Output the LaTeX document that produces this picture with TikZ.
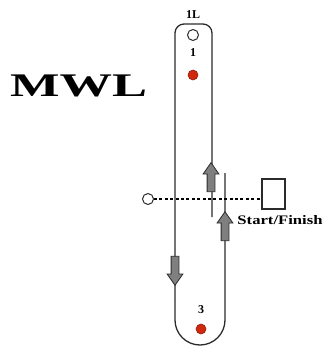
\documentclass[tikz,border=0pt]{standalone}
\usepackage{fontspec}
\setmainfont{Liberation Serif}
\usetikzlibrary{shapes.arrows}
\definecolor{ink}{HTML}{2B2B2B}
\definecolor{steel}{HTML}{7F7F7F}
\definecolor{dot}{HTML}{D1290E}
\definecolor{dotln}{HTML}{8E1C0A}
\tikzset{
  lane/.style={draw=ink,line width=1.3pt},
  flow/.style={single arrow,draw=ink,fill=steel,line width=0.8pt,minimum width=15pt,
               minimum height=29pt,single arrow head extend=4pt,
               single arrow tip angle=70,inner xsep=0pt,inner ysep=3.5pt},
  marker/.style={circle,draw=dotln,fill=dot,line width=0.6pt,minimum size=10pt,inner sep=0pt},
  hollow/.style={circle,draw=ink,fill=white,line width=1pt,minimum size=11pt,inner sep=0pt},
  gate/.style={draw=ink,line width=1.2pt,minimum width=23pt,minimum height=30pt,inner sep=0pt},
  startln/.style={draw=black,line width=1.8pt,dash pattern=on 3pt off 2.4pt},
  num/.style={font=\bfseries\fontsize{12}{12}\selectfont,inner sep=0pt},
}
\begin{document}
\begin{tikzpicture}[x=1pt,y=-1pt]
\useasboundingbox (0,0) rectangle (324,348);
% track
\draw[lane,rounded corners=9pt] (175,300) -- (175,24) -- (212,24) -- (212,217);
\draw[lane] (175,300) -- (175,320) arc[start angle=180,end angle=0,radius=25] -- (225,173);
% cones and numbers
\node[hollow] (top) at (193,35) {};
\node[num] (n1) at (193,53) {1};
\node[marker] (c1) at (193,75) {};
\node[num] (n3) at (201,310) {3};
\node[marker] (c3) at (201,329) {};
\node[num,anchor=base] (lane1) at (193,18) {1L};
% walking direction
\node[flow,rotate=90] (up1) at (211,180) {};
\node[flow,rotate=90] (up2) at (225,229) {};
\node[flow,rotate=-90] (down) at (175,268) {};
% start / finish
\node[hollow] (ring) at (148,199) {};
\node[gate] (gate) at (273.5,194) {};
\draw[startln] (ring.east) -- (ring.east -| gate.west);
\node[anchor=base,inner sep=0pt] (sf) at (280,224.3)
  {\scalebox{1.28}[1]{\fontsize{13}{13}\selectfont\bfseries Start/Finish}};
% title
\node[inner sep=0pt] (title) at (78.5,86)
  {\scalebox{1.59}[1]{\fontsize{33}{33}\selectfont\bfseries MWL}};
\end{tikzpicture}
\end{document}
